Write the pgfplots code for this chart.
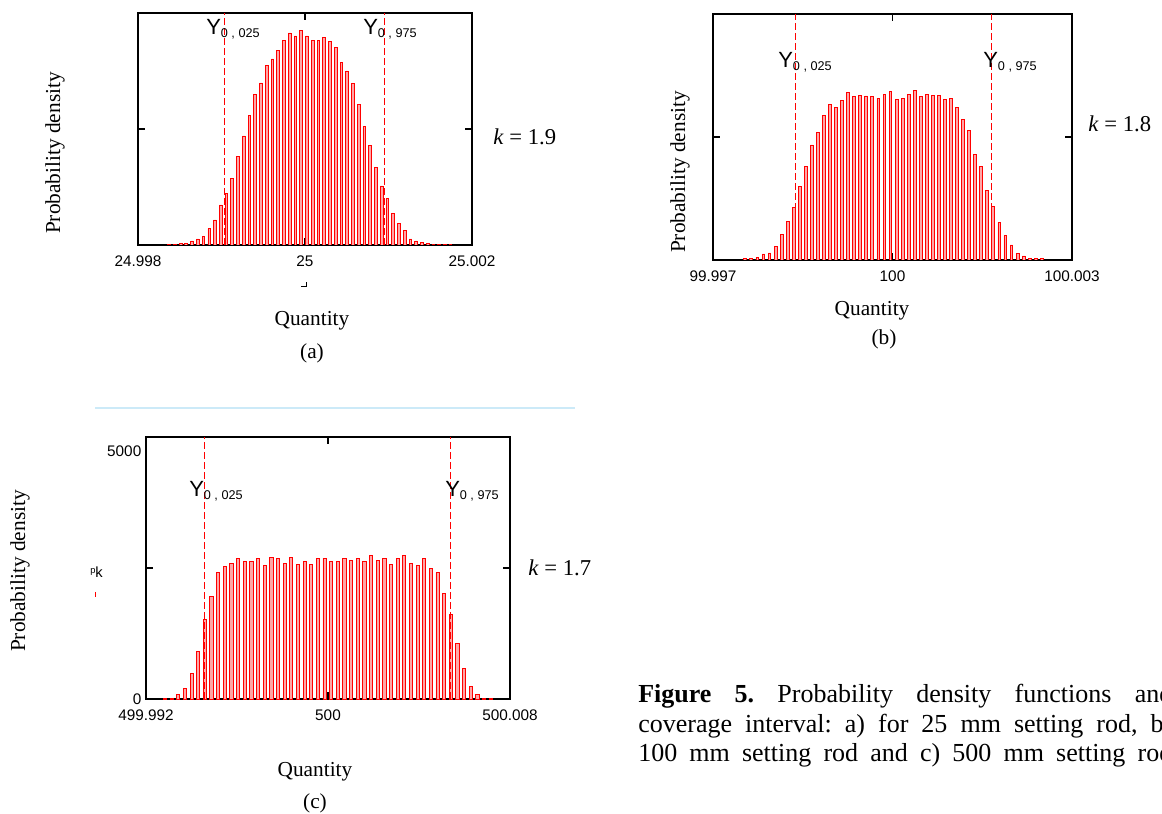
\documentclass[border=0pt]{standalone}
\usepackage{pgfplots}
\pgfplotsset{compat=1.18}
\usepackage{fontspec}
\setmainfont{Liberation Serif}
\newfontfamily\sansf{Liberation Sans}
\frenchspacing
\definecolor{lightblue}{RGB}{204,234,248}
\newcommand{\Ylab}[1]{{\sansf\fontsize{16.5}{18}\selectfont Y\raisebox{-2pt}{\fontsize{9.5}{10}\selectfont 0 , #1}}}
\pgfplotsset{
  histo/.style={scale only axis, anchor=south west, ymin=0,
    tick align=inside, xtick pos=both, ytick pos=both, major tick length=5pt,
    axis line style={line width=0.9pt},
    every tick/.style={black, line width=0.8pt},
    ticklabel style={font=\sansf\fontsize{11.5}{12}\selectfont},
    xticklabel style={yshift=-4.5pt}},
  bars/.style={ybar, draw=red, fill=red!35, line width=0.65pt},
  dline/.style={red, line width=0.7pt, dash pattern=on 5pt off 2.5pt}
}
\begin{document}
\begin{tikzpicture}
\useasboundingbox (0,0) rectangle (871.5pt,609.75pt);
% (a)
\begin{axis}[histo, at={(103.5pt,426pt)}, width=250.5pt, height=174pt,
  xmin=-2, xmax=2, ymax=232, xtick={-2,0,2}, xticklabels={24.998,25,25.002},
  ytick={116}, yticklabels={}]
\addplot[bars, bar width=0.033] table {
x y
-1.628 0.3
-1.559 0.3
-1.490 1.3
-1.422 1.3
-1.353 4
-1.284 6
-1.215 8.7
-1.146 16.3
-1.078 25
-1.009 40
-0.940 51.7
-0.871 66.3
-0.802 88.3
-0.734 109
-0.665 129.3
-0.596 150.7
-0.527 162
-0.458 179.3
-0.390 186
-0.321 194.7
-0.252 204.7
-0.183 212
-0.114 209
-0.046 214.7
0.023 209
0.092 204.7
0.161 204.7
0.230 207.3
0.298 203.7
0.367 197.3
0.436 182.3
0.505 174
0.574 161.7
0.642 140.3
0.711 118.3
0.780 99.3
0.849 77.7
0.918 59
0.986 46.3
1.055 31.7
1.124 21.3
1.193 14.3
1.262 6
1.330 4
1.399 2.3
1.468 1.3
1.537 0.3
1.606 0.3
1.674 0.3
1.743 0.3
};
\addplot[dline] coordinates {(-0.970,0) (-0.970,232)};
\addplot[dline] coordinates {(0.950,0) (0.950,232)};
\end{axis}
% (b)
\begin{axis}[histo, at={(534.75pt,414.75pt)}, width=269.25pt, height=184.5pt,
  xmin=-3, xmax=3, ymax=246, xtick={-3,0,3}, xticklabels={99.997,100,100.003},
  ytick={123}, yticklabels={}]
\addplot[bars, bar width=0.048] table {
x y
-2.460 1.2
-2.359 1.2
-2.258 2.5
-2.157 6
-2.056 7
-1.955 13.7
-1.853 25.5
-1.752 38.8
-1.651 52.7
-1.550 73.3
-1.449 93.8
-1.348 115
-1.247 127.2
-1.146 144.6
-1.045 155.2
-0.944 152.7
-0.842 159.3
-0.741 167.3
-0.640 163.2
-0.539 164.5
-0.438 164
-0.337 163.8
-0.236 161.8
-0.135 165.3
-0.034 168.3
0.068 160.7
0.169 161.7
0.270 165.5
0.371 169.7
0.472 163.2
0.573 165.3
0.674 164.3
0.775 164.3
0.876 160.5
0.977 161.7
1.079 152.5
1.180 140.5
1.281 129.7
1.382 105.8
1.483 93.7
1.584 69.5
1.685 53.5
1.786 37.5
1.887 24.3
1.988 15
2.090 6.7
2.191 4
2.292 1.7
2.393 1.7
2.494 1.7
};
\addplot[dline] coordinates {(-1.618,0) (-1.618,246)};
\addplot[dline] coordinates {(1.646,0) (1.646,246)};
\end{axis}
% (c)
\begin{axis}[histo, at={(109.5pt,85.5pt)}, width=273pt, height=196.5pt,
  xmin=-8, xmax=8, ymax=5000, xtick={-8,0,8}, xticklabels={499.992,500,500.008},
  ytick={0,2500}, yticklabels={0,{}},
  extra y ticks={5000}, extra y tick labels={5000},
  extra y tick style={yticklabel style={anchor=north east, yshift=-3pt}}]
\addplot[bars, bar width=0.14] table {
x y
-7.165 13
-6.873 13
-6.581 82
-6.288 197
-5.996 496
-5.704 903
-5.412 1513
-5.120 1960
-4.827 2410
-4.535 2524
-4.243 2595
-3.951 2690
-3.659 2633
-3.366 2633
-3.074 2690
-2.782 2551
-2.490 2709
-2.198 2690
-1.905 2595
-1.613 2709
-1.321 2576
-1.029 2633
-0.737 2576
-0.444 2690
-0.152 2690
0.140 2633
0.432 2633
0.724 2690
1.017 2646
1.309 2690
1.601 2633
1.893 2742
2.185 2652
2.478 2690
2.770 2576
3.062 2690
3.354 2742
3.646 2595
3.939 2551
4.231 2690
4.523 2486
4.815 2410
5.107 2022
5.400 1622
5.692 1068
5.984 586
6.276 248
6.568 82
6.861 13
7.153 13
};
\addplot[dline] coordinates {(-5.438,0) (-5.438,5000)};
\addplot[dline] coordinates {(5.394,0) (5.394,5000)};
\end{axis}
\begin{scope}[x=0.75pt, y=-0.75pt, yshift=609.75pt]
\draw[lightblue, line width=1.5pt] (95,408) -- (575,408);
% Y labels
\node[anchor=base west, inner sep=0] at (206,35) {\Ylab{025}};
\node[anchor=base west, inner sep=0] at (363,35) {\Ylab{975}};
\node[anchor=base west, inner sep=0] at (778,68) {\Ylab{025}};
\node[anchor=base west, inner sep=0] at (983,68) {\Ylab{975}};
\node[anchor=base west, inner sep=0] at (189,497) {\Ylab{025}};
\node[anchor=base west, inner sep=0] at (445,497) {\Ylab{975}};
% axis titles
\begin{scope}[every node/.style={inner sep=0, font=\fontsize{16}{18}\selectfont}]
\node[rotate=90] at (55,153) {Probability density};
\node[rotate=90] at (680,172) {Probability density};
\node[rotate=90] at (20,571) {Probability density};
\node at (312,321) {Quantity};
\node at (312,353) {(a)};
\node at (872,311) {Quantity};
\node at (884,339) {(b)};
\node at (315,772) {Quantity};
\node at (315,803) {(c)};
\end{scope}
\begin{scope}[every node/.style={inner sep=0, anchor=west, font=\fontsize{17}{19}\selectfont}]
\node at (493,137) {\textit{k} = 1.9};
\node at (1088,124) {\textit{k} = 1.8};
\node at (528,568) {\textit{k} = 1.7};
\end{scope}
% artifacts
\draw[black, line width=0.6pt] (301,286) -- (306,286) -- (306,282);
\node[anchor=west, inner sep=0, font=\sansf\fontsize{11}{12}\selectfont] at (90,572) {\raisebox{3pt}{\fontsize{7}{8}\selectfont p}k};
\draw[red, line width=0.6pt] (95,592) -- (95,597);
% caption
\begin{scope}[every node/.style={anchor=base west, inner sep=0, font=\fontsize{19.5}{23}\selectfont}]
\node at (638,703) {\makebox[400.5pt][s]{\textbf{Figure 5.} Probability density functions and}};
\node at (638,733) {\makebox[400.5pt][s]{coverage interval: a) for 25 mm setting rod, b)}};
\node at (638,762) {\makebox[400.5pt][s]{100 mm setting rod and c) 500 mm setting rod}};
\end{scope}
\end{scope}
\end{tikzpicture}
\end{document}
